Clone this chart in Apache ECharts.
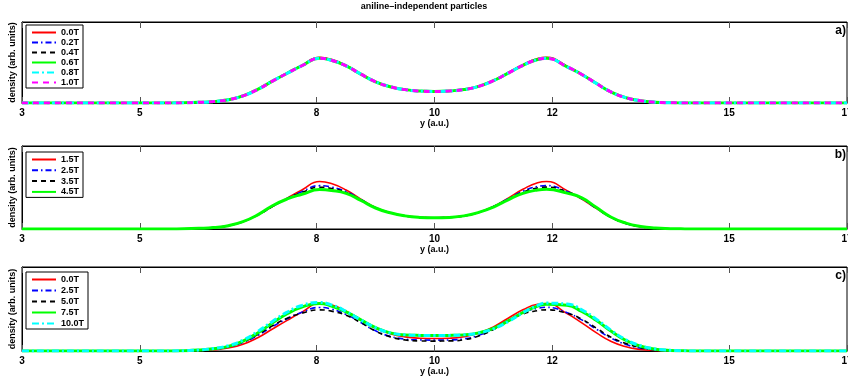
<!DOCTYPE html>
<html>
<head>
<meta charset="utf-8">
<script src="https://cdn.jsdelivr.net/npm/echarts@6/dist/echarts.min.js"></script>
<style>
html,body{margin:0;padding:0;background:#fff;}
#chart{width:848px;height:388px;}
</style>
</head>
<body>
<div id="chart"></div>
<script>
// x positions (a.u.)
var xs = [3, 5.5, 5.75, 6, 6.25, 6.5, 6.75, 7, 7.25, 7.5, 7.75, 8.05, 8.25, 8.5, 8.75, 9, 9.25, 9.5, 9.75, 10,
  10.25, 10.5, 10.75, 11, 11.25, 11.5, 11.75, 11.9, 12.25, 12.5, 12.75, 13, 13.25, 13.5, 13.75, 14, 14.25, 14.5, 17];
var tickValues = [3, 5, 8, 10, 12, 15, 17];

// panel a
var namesA = ['0.0T', '0.2T', '0.4T', '0.6T', '0.8T', '1.0T'];
var a00 = [0, 0, 0.002, 0.008, 0.018, 0.04, 0.088, 0.168, 0.27, 0.37, 0.467, 0.565, 0.54, 0.465, 0.36, 0.262, 0.2, 0.165, 0.148, 0.143, 0.148, 0.166, 0.206, 0.275, 0.373, 0.473, 0.55, 0.565, 0.455, 0.355, 0.24, 0.135, 0.065, 0.027, 0.009, 0.003, 0.001, 0, 0];
var a02 = [0, 0, 0.002, 0.008, 0.018, 0.04, 0.088, 0.168, 0.27, 0.368, 0.462, 0.556, 0.532, 0.46, 0.358, 0.262, 0.2, 0.165, 0.148, 0.143, 0.148, 0.166, 0.206, 0.275, 0.37, 0.468, 0.542, 0.556, 0.45, 0.353, 0.24, 0.135, 0.065, 0.027, 0.009, 0.003, 0.001, 0, 0];
var a04 = [0, 0, 0.002, 0.008, 0.018, 0.04, 0.088, 0.168, 0.27, 0.368, 0.461, 0.554, 0.53, 0.459, 0.357, 0.262, 0.2, 0.165, 0.148, 0.143, 0.148, 0.166, 0.206, 0.275, 0.37, 0.467, 0.54, 0.554, 0.449, 0.353, 0.24, 0.135, 0.065, 0.027, 0.009, 0.003, 0.001, 0, 0];
var a06 = [0, 0, 0.002, 0.008, 0.018, 0.04, 0.088, 0.168, 0.27, 0.367, 0.46, 0.551, 0.527, 0.458, 0.356, 0.262, 0.2, 0.165, 0.148, 0.143, 0.148, 0.166, 0.206, 0.275, 0.369, 0.465, 0.537, 0.551, 0.447, 0.352, 0.24, 0.135, 0.065, 0.027, 0.009, 0.003, 0.001, 0, 0];
var a08 = [0, 0, 0.002, 0.008, 0.018, 0.04, 0.088, 0.168, 0.27, 0.367, 0.46, 0.551, 0.527, 0.458, 0.356, 0.262, 0.2, 0.165, 0.148, 0.143, 0.148, 0.166, 0.206, 0.275, 0.369, 0.465, 0.537, 0.551, 0.447, 0.352, 0.24, 0.135, 0.065, 0.027, 0.009, 0.003, 0.001, 0, 0];
var a10 = [0, 0, 0.002, 0.008, 0.018, 0.04, 0.088, 0.168, 0.27, 0.367, 0.46, 0.551, 0.527, 0.458, 0.356, 0.262, 0.2, 0.165, 0.148, 0.143, 0.148, 0.166, 0.206, 0.275, 0.369, 0.465, 0.537, 0.551, 0.447, 0.352, 0.24, 0.135, 0.065, 0.027, 0.009, 0.003, 0.001, 0, 0];

// panel b
var namesB = ['1.5T', '2.5T', '3.5T', '4.5T'];
var b15 = [0, 0, 0.002, 0.008, 0.018, 0.04, 0.088, 0.168, 0.27, 0.372, 0.47, 0.572, 0.547, 0.47, 0.36, 0.258, 0.195, 0.158, 0.14, 0.135, 0.14, 0.158, 0.2, 0.272, 0.372, 0.478, 0.557, 0.572, 0.462, 0.36, 0.245, 0.138, 0.067, 0.028, 0.01, 0.003, 0.001, 0, 0];
var b25 = [0, 0, 0.002, 0.008, 0.018, 0.04, 0.088, 0.168, 0.27, 0.368, 0.45, 0.522, 0.505, 0.45, 0.355, 0.256, 0.195, 0.158, 0.14, 0.135, 0.14, 0.158, 0.2, 0.27, 0.365, 0.455, 0.512, 0.523, 0.452, 0.365, 0.248, 0.138, 0.067, 0.028, 0.01, 0.003, 0.001, 0, 0];
var b35 = [0, 0, 0.002, 0.008, 0.018, 0.04, 0.088, 0.168, 0.27, 0.365, 0.44, 0.503, 0.488, 0.44, 0.35, 0.255, 0.195, 0.158, 0.14, 0.135, 0.14, 0.158, 0.2, 0.268, 0.36, 0.443, 0.495, 0.505, 0.447, 0.37, 0.25, 0.138, 0.067, 0.028, 0.01, 0.003, 0.001, 0, 0];
var b45 = [0, 0, 0.002, 0.008, 0.018, 0.04, 0.088, 0.17, 0.28, 0.362, 0.418, 0.475, 0.465, 0.43, 0.345, 0.253, 0.195, 0.158, 0.14, 0.135, 0.14, 0.158, 0.2, 0.265, 0.352, 0.43, 0.47, 0.478, 0.432, 0.375, 0.258, 0.142, 0.07, 0.03, 0.011, 0.004, 0.001, 0, 0];

// panel c
var namesC = ['0.0T', '2.5T', '5.0T', '7.5T', '10.0T'];
var c00 = [0, 0, 0.002, 0.007, 0.016, 0.036, 0.08, 0.158, 0.262, 0.365, 0.463, 0.568, 0.55, 0.475, 0.37, 0.27, 0.205, 0.168, 0.152, 0.148, 0.152, 0.17, 0.213, 0.287, 0.39, 0.49, 0.557, 0.565, 0.445, 0.335, 0.215, 0.112, 0.05, 0.018, 0.006, 0.002, 0.001, 0, 0];
var c25 = [0, 0, 0.003, 0.01, 0.022, 0.047, 0.1, 0.185, 0.29, 0.385, 0.46, 0.518, 0.5, 0.435, 0.34, 0.24, 0.175, 0.142, 0.132, 0.13, 0.132, 0.145, 0.187, 0.265, 0.365, 0.458, 0.508, 0.52, 0.455, 0.37, 0.258, 0.152, 0.078, 0.034, 0.013, 0.004, 0.001, 0, 0];
var c50 = [0, 0, 0.003, 0.011, 0.025, 0.052, 0.108, 0.195, 0.3, 0.39, 0.45, 0.49, 0.475, 0.425, 0.338, 0.237, 0.168, 0.132, 0.12, 0.118, 0.12, 0.135, 0.178, 0.255, 0.353, 0.44, 0.48, 0.49, 0.45, 0.378, 0.27, 0.162, 0.088, 0.04, 0.015, 0.005, 0.001, 0, 0];
var c75 = [0, 0, 0.003, 0.011, 0.026, 0.055, 0.118, 0.215, 0.333, 0.443, 0.523, 0.565, 0.535, 0.465, 0.37, 0.278, 0.216, 0.192, 0.186, 0.185, 0.186, 0.192, 0.216, 0.27, 0.358, 0.458, 0.535, 0.558, 0.545, 0.47, 0.362, 0.235, 0.125, 0.057, 0.021, 0.006, 0.002, 0, 0];
var c100 = [0, 0, 0.004, 0.012, 0.03, 0.063, 0.128, 0.232, 0.352, 0.462, 0.542, 0.577, 0.55, 0.472, 0.37, 0.278, 0.216, 0.192, 0.186, 0.185, 0.186, 0.192, 0.214, 0.264, 0.35, 0.455, 0.543, 0.57, 0.56, 0.49, 0.375, 0.245, 0.133, 0.062, 0.025, 0.008, 0.002, 0, 0];

var FONT = '"Liberation Sans", Arial, Helvetica, sans-serif';

var styles = {
  red:   {color: '#ff0000', width: 1.6, type: 'solid'},
  blue:  {color: '#0000ff', width: 1.6, type: [6, 3, 1.5, 3]},
  black: {color: '#000000', width: 1.6, type: [5, 4]},
  green: {color: '#00ff00', width: 3, type: 'solid'},
  cyan:  {color: '#00ffff', width: 3, type: [7, 3, 2, 3]},
  mag:   {color: '#ff00ff', width: 3, type: [6, 5]}
};

var panels = [
  {names: namesA, data: [a00, a02, a04, a06, a08, a10], st: ['red', 'blue', 'black', 'green', 'cyan', 'mag'],
   top: 22, height: 81, label: 'a)', legTop: 25, gap: 1},
  {names: namesB, data: [b15, b25, b35, b45], st: ['red', 'blue', 'black', 'green'],
   top: 146, height: 83, label: 'b)', legTop: 152, gap: 1.8},
  {names: namesC, data: [c00, c25, c50, c75, c100], st: ['red', 'blue', 'black', 'green', 'cyan'],
   top: 267, height: 84, label: 'c)', legTop: 272, gap: 2}
];

var grids = [], xAxes = [], yAxes = [], series = [], legends = [], titles = [];
titles.push({text: 'aniline–independent particles', left: 'center', top: 2, padding: 0,
  textStyle: {fontFamily: FONT, fontWeight: 'bold', fontSize: 9, color: '#000'}});

panels.forEach(function (p, i) {
  grids.push({left: 22, right: 1, top: p.top, height: p.height, show: true,
    containLabel: false, outerBoundsMode: 'none',
    borderColor: '#000', borderWidth: 1, backgroundColor: '#fff'});
  xAxes.push({type: 'value', gridIndex: i, min: 3, max: 17, position: 'bottom',
    axisLine: {show: true, lineStyle: {color: '#000', width: 1}},
    axisTick: {show: true, inside: true, length: 6, lineStyle: {color: '#555', width: 1}, customValues: tickValues},
    axisLabel: {show: true, customValues: tickValues, margin: 5, hideOverlap: false, fontFamily: FONT, fontWeight: 'bold', fontSize: 10, color: '#000'},
    splitLine: {show: false},
    name: 'y (a.u.)', nameLocation: 'middle', nameGap: 15,
    nameTextStyle: {fontFamily: FONT, fontWeight: 'bold', fontSize: 9, color: '#000'}});
  xAxes.push({type: 'value', gridIndex: i, min: 3, max: 17, position: 'top',
    axisLine: {show: true, lineStyle: {color: '#000', width: 1}},
    axisTick: {show: true, inside: true, length: 6, lineStyle: {color: '#555', width: 1}, customValues: tickValues},
    axisLabel: {show: false}, splitLine: {show: false}});
  yAxes.push({type: 'value', gridIndex: i, min: 0, max: 1,
    axisLine: {show: true, lineStyle: {color: '#000', width: 1}},
    axisTick: {show: false}, axisLabel: {show: false}, splitLine: {show: false},
    name: 'density (arb. units)', nameLocation: 'middle', nameGap: 5, nameRotate: 90,
    nameTextStyle: {fontFamily: FONT, fontWeight: 'bold', fontSize: 9, color: '#000'}});
  p.names.forEach(function (nm, k) {
    var st = styles[p.st[k]];
    series.push({type: 'line', name: nm, xAxisIndex: i * 2, yAxisIndex: i,
      symbol: 'none', smooth: 0.5, silent: true,
      lineStyle: {color: st.color, width: st.width, type: st.type},
      itemStyle: {color: st.color},
      data: xs.map(function (x, j) { return [x, p.data[k][j]]; })});
  });
  legends.push({orient: 'vertical', left: 26, top: p.legTop, data: p.names.slice(),
    itemWidth: 24, itemHeight: 10, itemGap: p.gap, padding: [3, 4, 1, 5],
    borderColor: '#000', borderWidth: 1, backgroundColor: '#fff',
    selectedMode: false,
    itemStyle: {color: 'rgba(0,0,0,0)', borderColor: 'rgba(0,0,0,0)', borderWidth: 0, opacity: 0},
    textStyle: {fontFamily: FONT, fontWeight: 'bold', fontSize: 9, color: '#000'}});
  titles.push({text: p.label, right: 2, top: p.top + 3, padding: 0,
    textStyle: {fontFamily: FONT, fontWeight: 'bold', fontSize: 12, color: '#000'}});
});

var chart = echarts.init(document.getElementById('chart'), null, {renderer: 'canvas'});
chart.setOption({
  animation: false,
  backgroundColor: '#fff',
  title: titles,
  grid: grids,
  xAxis: xAxes,
  yAxis: yAxes,
  legend: legends,
  series: series
});
</script>
</body>
</html>
